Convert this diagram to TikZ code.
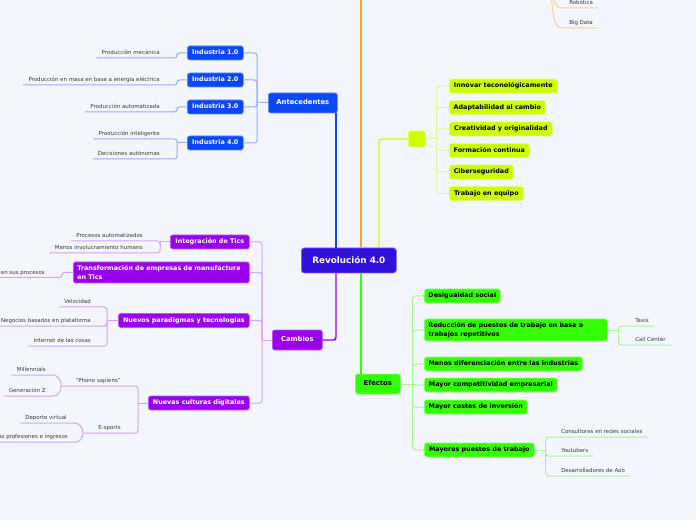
\documentclass[tikz,border=0pt]{standalone}
\usepackage{fontspec}
\setmainfont{DejaVu Sans}
\definecolor{cBg}{HTML}{F3F6FE}
\definecolor{cBlue}{HTML}{0A48F5}
\definecolor{cBlueL}{HTML}{94ADF7}
\definecolor{cRev}{HTML}{3311DD}
\definecolor{cPur}{HTML}{9900EE}
\definecolor{cPurL}{HTML}{D6A2F6}
\definecolor{cGrn}{HTML}{33FF00}
\definecolor{cGrnL}{HTML}{A8F593}
\definecolor{cLim}{HTML}{CCFF00}
\definecolor{cLimL}{HTML}{E2F5A0}
\definecolor{cOra}{HTML}{FFA52A}
\definecolor{cOraL}{HTML}{FBD093}
\definecolor{cLeaf}{HTML}{3A3A3A}
\tikzset{
  bw/.style={minimum width=#1*0.75pt},
  bh/.style={minimum height=#1*0.75pt},
  tw/.style={text width=#1*0.75pt-6pt, inner xsep=3pt},
  box/.style={rounded corners=1.8pt, inner sep=0pt, line width=0.5pt, anchor=west,
    font=\bfseries\fontsize{4.8}{6.3}\selectfont},
  sl/.style={text height=3.5pt, text depth=0.9pt},
  bluebox/.style={box, sl, fill=cBlue, draw=cBlue!65!white, text=white},
  purbox/.style={box, fill=cPur, draw=cPur!65!white, text=white},
  grnbox/.style={box, fill=cGrn, draw=cGrn!55!white, text=black},
  limbox/.style={box, sl, fill=cLim, draw=cLim!55!white, text=black},
  mainlbl/.style={font=\bfseries\fontsize{5.1}{6}\selectfont},
  leafL/.style={anchor=south east, inner xsep=3.75pt, inner ysep=1.5pt,
    text height=3pt, text depth=0.9pt, font=\fontsize{4.1}{5}\selectfont, text=cLeaf},
  leafR/.style={leafL, anchor=south west},
  ln/.style={line width=0.75pt, rounded corners=2pt},
  mln/.style={line width=1.1pt, rounded corners=2pt},
  bl/.style={ln, draw=cBlueL},
  pl/.style={ln, draw=cPurL},
  gl/.style={ln, draw=cGrnL},
  yl/.style={ln, draw=cLimL},
  ol/.style={ln, draw=cOraL},
}
\begin{document}
\begin{tikzpicture}[x=0.75pt,y=-0.75pt]
\useasboundingbox (0,0) rectangle (696,520);
\fill[cBg] (0,0) rectangle (696,520);

% ---------- central node
\node[box, fill=cRev, draw=cRev!65!white, text=white, rounded corners=2.2pt,
  font=\bfseries\fontsize{6.6}{8}\selectfont, bw=95, bh=25] (rev) at (301,260.5) {Revolución 4.0};

% ---------- Antecedentes
\node[bluebox, mainlbl, bw=69, bh=20] (ant) at (268,103) {Antecedentes};
\node[bluebox, bw=56, bh=14] (i1) at (187,53) {Industria 1.0};
\node[bluebox, bw=56, bh=14] (i2) at (187,80) {Industria 2.0};
\node[bluebox, bw=56, bh=14] (i3) at (187,107) {Industria 3.0};
\node[bluebox, bw=56, bh=14] (i4) at (187,143) {Industria 4.0};
\node[leafL] (l11) at (165,58) {Producción mecánica};
\node[leafL] (l21) at (165,85) {Producción en masa en base a energía eléctrica};
\node[leafL] (l31) at (165,112) {Producción automatizada};
\node[leafL] (l41) at (165,139) {Producción inteligente};
\node[leafL] (l42) at (165,159) {Decisiones autónomas};

\draw[bl] (ant.west) -- ++(-11,0) coordinate (ja);
\foreach \n in {i1,i2,i3,i4} \draw[bl] (ja) |- (\n.east);
\draw[bl] (i1.west) -- ++(-10,0) |- (l11.south east) -- (l11.south west);
\draw[bl] (i2.west) -- ++(-10,0) |- (l21.south east) -- (l21.south west);
\draw[bl] (i3.west) -- ++(-10,0) |- (l31.south east) -- (l31.south west);
\draw[bl] (i4.west) -- ++(-10,0) coordinate (j4);
\draw[bl] (j4) |- (l41.south east) -- (l41.south west);
\draw[bl] (j4) |- (l42.south east) -- (l42.south west);
\draw[mln, draw=cBlue] ([xshift=-1.2pt]ant.south east) -- ([xshift=-1.2pt]ant.south east |- rev.north);

% ---------- orange branch (top, off-page)
\coordinate (otop) at (361,-3);
\draw[mln, draw=cOra] (otop |- rev.north) -- (otop);
\coordinate (ov) at (551,-25);
\node[leafR] (rob) at (564,8) {Robótica};
\node[leafR] (bigd) at (564,28) {Big Data};
\draw[ol] (ov) .. controls +(0,25) and +(-8,0) .. (rob.south west) -- (rob.south east);
\draw[ol] (ov) .. controls +(0,45) and +(-8,0) .. (bigd.south west) -- (bigd.south east);

% ---------- lime branch
\node[limbox, bw=17, bh=16] (sq) at (408,139) {};
\node[limbox, bw=108, bh=14] (y1) at (449,86) {Innovar teconológicamente};
\node[limbox, bw=96, bh=14] (y2) at (449,107.5) {Adaptabilidad al cambio};
\node[limbox, bw=103, bh=14] (y3) at (449,129) {Creatividad y originalidad};
\node[limbox, bw=80, bh=14] (y4) at (449,150.5) {Formación continua};
\node[limbox, bw=64, bh=14] (y5) at (449,172) {Ciberseguridad};
\node[limbox, bw=74, bh=14] (y6) at (449,193.5) {Trabajo en equipo};
\coordinate (lx) at (379,0);
\draw[mln, draw=cLim] (lx |- rev.north) |- (sq.west);
\draw[yl] (sq.east) -- ++(11,0) coordinate (jy);
\foreach \n in {y1,y2,y3,y4,y5,y6} \draw[yl] (jy) |- (\n.west);

% ---------- Cambios
\node[purbox, sl, mainlbl, bw=50, bh=20] (camb) at (272,340) {Cambios};
\node[purbox, sl, bw=79, bh=14] (c1) at (170,242) {Integración de Tics};
\node[purbox, align=left, tw=176, bh=21] (c2) at (73,272.5) {Transformación de empresas de manufactura\\en Tics};
\node[purbox, sl, bw=131, bh=14] (c3) at (118,320.5) {Nuevos paradigmas y tecnologías};
\node[purbox, sl, bw=101, bh=14] (c4) at (148,403) {Nuevas culturas digitales};
\coordinate (px) at (336,0);
\draw[mln, draw=cPur] (px |- rev.south) |- (camb.east);
\draw[pl] (camb.west) -- ++(-10,0) coordinate (jc);
\foreach \n in {c1,c2,c3,c4} \draw[pl] (jc) |- (\n.east);

\node[leafL] (p11) at (148,241) {Procesos automatizados};
\node[leafL] (p12) at (148,253) {Menos involucramiento humano};
\draw[pl] (c1.west) -- ++(-10,0) coordinate (jc1);
\draw[pl] (jc1) |- (p11.south east) -- (p11.south west);
\draw[pl] (jc1) |- (p12.south east) -- (p12.south west);

\node[leafL] (p21) at (50,277.5) {en sus procesos};
\draw[pl] (c2.west) -- ++(-11,0) |- (p21.south east) -- (p21.south west);

\node[leafL] (p31) at (96,307) {Velocidad};
\node[leafL] (p32) at (96,326) {Negocios basados en plataforma};
\node[leafL] (p33) at (96,346) {Internet de las cosas};
\draw[pl] (c3.west) -- ++(-11,0) coordinate (jc3);
\foreach \n in {p31,p32,p33} \draw[pl] (jc3) |- (\n.south east) -- (\n.south west);

\node[leafL] (ph) at (126,386) {"Phono sapiens"};
\node[leafL] (es) at (126,433) {E-sports};
\draw[pl] (c4.west) -- ++(-10,0) coordinate (jc4);
\draw[pl] (jc4) |- (ph.south east) -- (ph.south west) -- ++(-9,0) coordinate (pv);
\draw[pl] (jc4) |- (es.south east) -- (es.south west) -- ++(-10,0) coordinate (ev);
\node[leafL] (mil) at (51,375) {Millennials};
\node[leafL] (gz) at (51,396) {Generación Z};
\node[leafL] (dv) at (72,423) {Deporte virtual};
\node[leafL] (npi) at (73,442) {as profesiones e ingresos};
\draw[pl] (pv) .. controls +(0,-6) and +(6,0) .. (mil.south east) -- (mil.south west);
\draw[pl] (pv) .. controls +(0,6) and +(6,0) .. (gz.south east) -- (gz.south west);
\draw[pl] (ev) .. controls +(0,-6) and +(6,0) .. (dv.south east) -- (dv.south west);
\draw[pl] (ev) .. controls +(0,6) and +(6,0) .. (npi.south east) -- (npi.south west);

% ---------- Efectos
\node[grnbox, sl, mainlbl, bw=45, bh=20] (efe) at (355,384) {Efectos};
\node[grnbox, sl, bw=76, bh=14] (e1) at (424,296) {Desigualdad social};
\node[grnbox, align=left, tw=183, bh=22] (e2) at (424,330) {Reducción de puestos de trabajo en base a\\trabajos repetitivos};
\node[grnbox, sl, bw=158, bh=14] (e3) at (424,364) {Menos diferenciación entre las industrias};
\node[grnbox, sl, bw=133, bh=14] (e4) at (424,385) {Mayor competitividad empresarial};
\node[grnbox, sl, bw=103, bh=14] (e5) at (424,407) {Mayor costes de inversión};
\node[grnbox, sl, bw=110, bh=14] (e6) at (424,450) {Mayores puestos de trabajo};
\coordinate (gx) at (361,0);
\draw[mln, draw=cGrn] (gx |- rev.south) -- (gx |- efe.north);
\draw[gl] (efe.east) -- ++(12,0) coordinate (jg);
\foreach \n in {e1,e2,e3,e4,e5,e6} \draw[gl] (jg) |- (\n.west);

\node[leafR] (tx) at (630,326) {Taxis};
\node[leafR] (cc) at (630,345) {Call Center};
\draw[gl] (e2.east) -- ++(11,0) coordinate (je2);
\draw[gl] (je2) |- (tx.south west) -- (tx.south east);
\draw[gl] (je2) |- (cc.south west) -- (cc.south east);

\node[leafR] (m1) at (556,437) {Consultores en redes sociales};
\node[leafR] (m2) at (556,456) {Youtubers};
\node[leafR] (m3) at (556,476) {Desarrolladores de Aoo};
\draw[gl] (e6.east) -- ++(11,0) coordinate (je6);
\foreach \n in {m1,m2,m3} \draw[gl] (je6) |- (\n.south west) -- (\n.south east);
\end{tikzpicture}
\end{document}
